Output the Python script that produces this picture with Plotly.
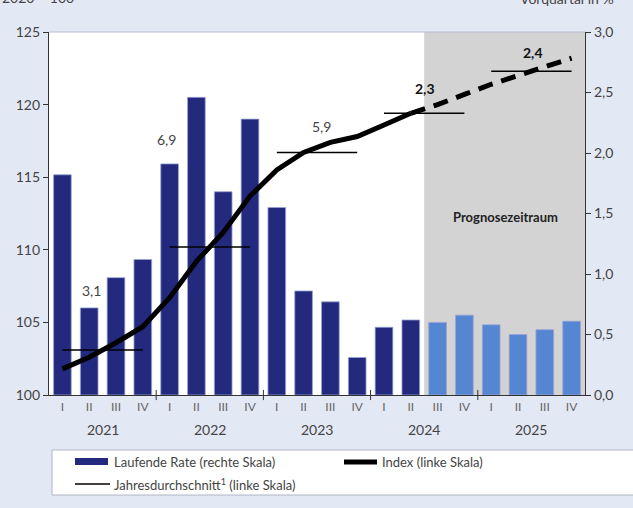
import plotly.graph_objects as go

# ---------------- data ----------------
years = ["2021", "2022", "2023", "2024", "2025"]
quarters = ["I", "II", "III", "IV"]
quarter_labels = [q for y in years for q in quarters]

# Laufende Rate (rechte Skala), % ggü. Vorquartal
rate = [1.82, 0.72, 0.97, 1.12,
        1.91, 2.46, 1.68, 2.28,
        1.55, 0.86, 0.77, 0.31,
        0.56, 0.62, 0.60, 0.66,
        0.58, 0.50, 0.54, 0.61]
n_actual = 14  # bis 2024 Q2 Ist-Werte, danach Prognose

# Index 2020 = 100 (linke Skala)
index_vals = [101.8, 102.6, 103.6, 104.7,
              106.7, 109.2, 111.2, 113.7,
              115.5, 116.7, 117.4, 117.8,
              118.6, 119.4, 120.0, 120.7,
              121.4, 122.0, 122.6, 123.2]

# Jahresdurchschnitt (linke Skala) und Veränderungsraten
annual_avg = [103.1, 110.2, 116.7, 119.4, 122.3]
annual_labels = ["3,1", "6,9", "5,9", "2,3", "2,4"]
annual_label_bold = [False, False, False, True, True]
annual_label_pos = [(1.60, 107.2), (4.40, 117.6), (10.15, 118.5), (14.03, 121.1), (18.06, 123.6)]

left_ticks = [100, 105, 110, 115, 120, 125]
right_ticks = [0.0, 0.5, 1.0, 1.5, 2.0, 2.5, 3.0]
right_ticktext = ["0,0", "0,5", "1,0", "1,5", "2,0", "2,5", "3,0"]

legend_names = ["Laufende Rate (rechte Skala)", "Index (linke Skala)",
                "Jahresdurchschnitt<sup>1</sup> (linke Skala)"]

# ---------------- styles ----------------
BG = "#e3e8f5"
DARK_BAR = "#232a7e"
LIGHT_BAR = "#5586d1"
GREY_AREA = "#d3d3d3"
FONT = "Lato"
TXT = "#444444"

# plot area in page pixels
PX_L, PX_R, PX_T, PX_B = 49, 585, 32, 395
W, H = 633, 508


def px_x(p):
    return (p - PX_L) / (PX_R - PX_L)


def px_y(p):
    return (PX_B - p) / (PX_B - PX_T)


xq = [i + 0.5 for i in range(len(rate))]
bar_colors = [DARK_BAR if i < n_actual else LIGHT_BAR for i in range(len(rate))]

fig = go.Figure()

fig.add_trace(go.Bar(
    x=xq, y=rate, width=0.66,
    marker=dict(color=bar_colors, line=dict(color="#9aa3d6", width=0.8)),
    name=legend_names[0], yaxis="y", showlegend=False,
))

fig.add_trace(go.Scatter(
    x=xq[:n_actual], y=index_vals[:n_actual], mode="lines",
    line=dict(color="black", width=5),
    name=legend_names[1], yaxis="y2", showlegend=False,
))
fig.add_trace(go.Scatter(
    x=xq[n_actual - 1:], y=index_vals[n_actual - 1:], mode="lines",
    line=dict(color="black", width=5, dash="15px,9px"),
    showlegend=False, yaxis="y2",
))

avg_x, avg_y = [], []
for k, v in enumerate(annual_avg):
    avg_x += [xq[4 * k], xq[4 * k + 3], None]
    avg_y += [v, v, None]
fig.add_trace(go.Scatter(
    x=avg_x, y=avg_y, mode="lines",
    line=dict(color="black", width=1.5),
    name=legend_names[2], yaxis="y2", showlegend=False,
))

# forecast shading
fig.add_shape(type="rect", xref="x", yref="paper", x0=n_actual, x1=len(rate), y0=0, y1=1,
              fillcolor=GREY_AREA, line_width=0, layer="below")
# top border of plot area
fig.add_shape(type="line", xref="paper", yref="paper", x0=0, x1=1, y0=1, y1=1,
              line=dict(color="#b9bfd6", width=1))
# year separator ticks on x axis
for k in range(1, len(years)):
    fig.add_shape(type="line", xref="x", yref="paper", x0=4 * k, x1=4 * k, y0=-0.014, y1=0.014,
                  line=dict(color="#333333", width=1))

# ---- legend (drawn manually) ----
fig.add_shape(type="rect", xref="paper", yref="paper", x0=px_x(52), x1=px_x(700),
              y0=px_y(495), y1=px_y(450),
              fillcolor="white", line=dict(color="#b0b4c4", width=1), layer="below")
fig.add_shape(type="rect", xref="paper", yref="paper", x0=px_x(75), x1=px_x(108),
              y0=px_y(465), y1=px_y(458), fillcolor=DARK_BAR, line_width=0)
fig.add_shape(type="line", xref="paper", yref="paper", x0=px_x(344), x1=px_x(377),
              y0=px_y(462), y1=px_y(462), line=dict(color="black", width=5))
fig.add_shape(type="line", xref="paper", yref="paper", x0=px_x(75), x1=px_x(110),
              y0=px_y(484), y1=px_y(484), line=dict(color="black", width=1.5))
for name, (lx, ly) in zip(legend_names, [(112, 462), (380, 462), (112, 484)]):
    fig.add_annotation(x=px_x(lx), y=px_y(ly), xref="paper", yref="paper", showarrow=False,
                       xanchor="left", yanchor="middle", text=name,
                       font=dict(family=FONT, size=13, color=TXT))

# labels
for lab, bold, (lx, ly) in zip(annual_labels, annual_label_bold, annual_label_pos):
    fig.add_annotation(x=lx, y=ly, xref="x", yref="y2", showarrow=False,
                       text=f"<b>{lab}</b>" if bold else lab,
                       font=dict(family=FONT, size=14, color="#111111" if bold else "#444444"))

fig.add_annotation(x=17.05, y=112.26, xref="x", yref="y2", showarrow=False,
                   text="<b>Prognosezeitraum</b>", font=dict(family=FONT, size=13, color="#222222"))

for k, yr in enumerate(years):
    fig.add_annotation(x=4 * k + 2, y=px_y(429), xref="x", yref="paper", showarrow=False,
                       text=yr, yanchor="middle", font=dict(family=FONT, size=14, color=TXT))

fig.add_annotation(x=px_x(0), y=px_y(8), xref="paper", yref="paper", showarrow=False,
                   xanchor="left", yanchor="bottom", text="2020 = 100",
                   font=dict(family=FONT, size=14, color=TXT))
fig.add_annotation(x=px_x(616), y=px_y(9), xref="paper", yref="paper", showarrow=False,
                   xanchor="right", yanchor="bottom", text="Vorquartal in %",
                   font=dict(family=FONT, size=14, color=TXT))

fig.update_layout(
    width=W, height=H,
    margin=dict(l=PX_L, r=W - PX_R, t=PX_T, b=H - PX_B),
    paper_bgcolor=BG, plot_bgcolor="white",
    font=dict(family=FONT, size=14, color=TXT),
    showlegend=False,
    xaxis=dict(range=[0, len(rate)], tickmode="array", tickvals=xq, ticktext=quarter_labels,
               ticks="", showgrid=False, zeroline=False, showline=True,
               linecolor="#333333", linewidth=1.2, tickfont=dict(size=12, color="#666666")),
    yaxis=dict(range=[0, 3.0], side="right", tickmode="array", tickvals=right_ticks,
               ticktext=right_ticktext, ticks="outside", ticklen=5, tickcolor="#333333",
               showline=True, linecolor="#333333", linewidth=1.2, showgrid=False, zeroline=False,
               tickfont=dict(size=14, color=TXT)),
    yaxis2=dict(range=[100, 125], side="left", overlaying="y", tickmode="array",
                tickvals=left_ticks, ticks="outside", ticklen=5, tickcolor="#333333",
                showline=True, linecolor="#333333", linewidth=1.2, showgrid=False, zeroline=False,
                tickfont=dict(size=14, color=TXT)),
)

fig.write_html("out.html", config={"displayModeBar": False},
               post_script="document.body.style.margin='0';document.body.style.background='%s';" % BG)
